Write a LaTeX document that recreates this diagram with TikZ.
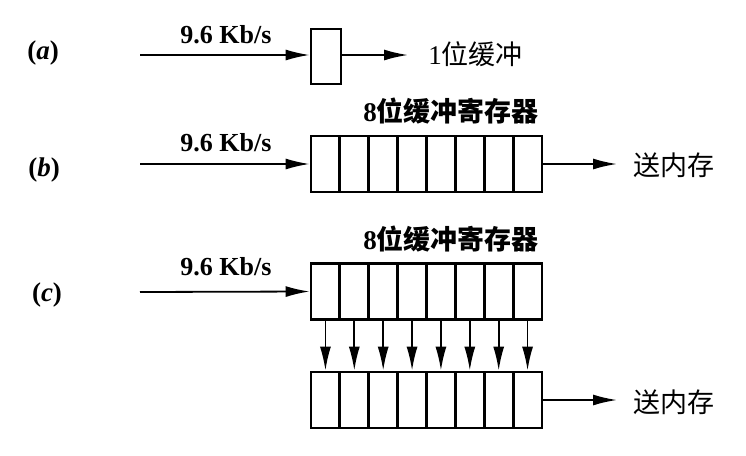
\documentclass[tikz,border=0pt]{standalone}
\usepackage{fontspec}
\setmainfont{Liberation Serif}
\newfontfamily\cjk{Noto Sans CJK SC}
\usetikzlibrary{arrows.meta}

\tikzset{
  cell/.style={draw, line width=1.4pt, minimum width=14.44pt, minimum height=28pt, inner sep=0pt},
  flow/.style={line width=0.9pt, -{Latex[length=12pt,width=5.5pt]}},
  rate/.style={font=\fontsize{13}{15}\selectfont\bfseries},
  part/.style={font=\fontsize{13.5}{15}\selectfont\bfseries},
  cjktext/.style={font=\fontsize{13.5}{16}\selectfont\cjk, inner sep=0pt},
  regname/.style={cjktext, font=\fontsize{13.5}{16}\selectfont\cjk\bfseries}
}

\begin{document}
\begin{tikzpicture}[x=0.5pt, y=-0.5pt]
  \useasboundingbox (0,0) rectangle (746,456);

  % (a) one bit
  \node[part] (alabel) at (43,53) {(\textit{a})};
  \node[rate] (arate) at (226,35) {9.6 Kb/s};
  \node[cell, minimum width=15pt, minimum height=27.5pt] (abox) at (326,56.5) {};
  \coordinate (ain) at (140,55);
  \node[cjktext, anchor=west] (aout) at (428,54) {{\rmfamily 1}位缓冲};
  \draw[flow] (ain) -- (ain -| abox.west);
  \draw[flow, shorten >=10pt] (abox.east |- ain) -- (aout.west |- ain);

  % (b) 8 bit register
  \node[part] (blabel) at (44,170) {(\textit{b})};
  \node[rate] (brate) at (226,143) {9.6 Kb/s};
  \node[regname] (bname) at (451,111) {{\rmfamily 8}位缓冲寄存器};
  \foreach \i in {1,...,8}
    \node[cell] (b\i) at ({311+(\i-0.5)*28.875},164) {};
  \coordinate (bin) at (140,164);
  \node[cjktext, anchor=west] (bout) at (633,165) {送内存};
  \draw[flow] (bin) -- (b1.west);
  \draw[flow, shorten >=8pt] (b8.east) -- (b8.east -| bout.west);

  % (c) two registers
  \node[part] (clabel) at (47,295) {(\textit{c})};
  \node[rate] (crate) at (226,267) {9.6 Kb/s};
  \node[regname] (cname) at (451,239) {{\rmfamily 8}位缓冲寄存器};
  \foreach \i in {1,...,8} {
    \node[cell] (c\i) at ({311+(\i-0.5)*28.875},291.5) {};
    \node[cell] (d\i) at ({311+(\i-0.5)*28.875},400) {};
    \draw[flow] (c\i.south) -- (d\i.north);
  }
  \coordinate (cin) at (140,292);
  \node[cjktext, anchor=west] (cout) at (633,402) {送内存};
  \draw[flow] (cin) -- (c1.west);
  \draw[flow, shorten >=8pt] (d8.east) -- (d8.east -| cout.west);
\end{tikzpicture}
\end{document}
